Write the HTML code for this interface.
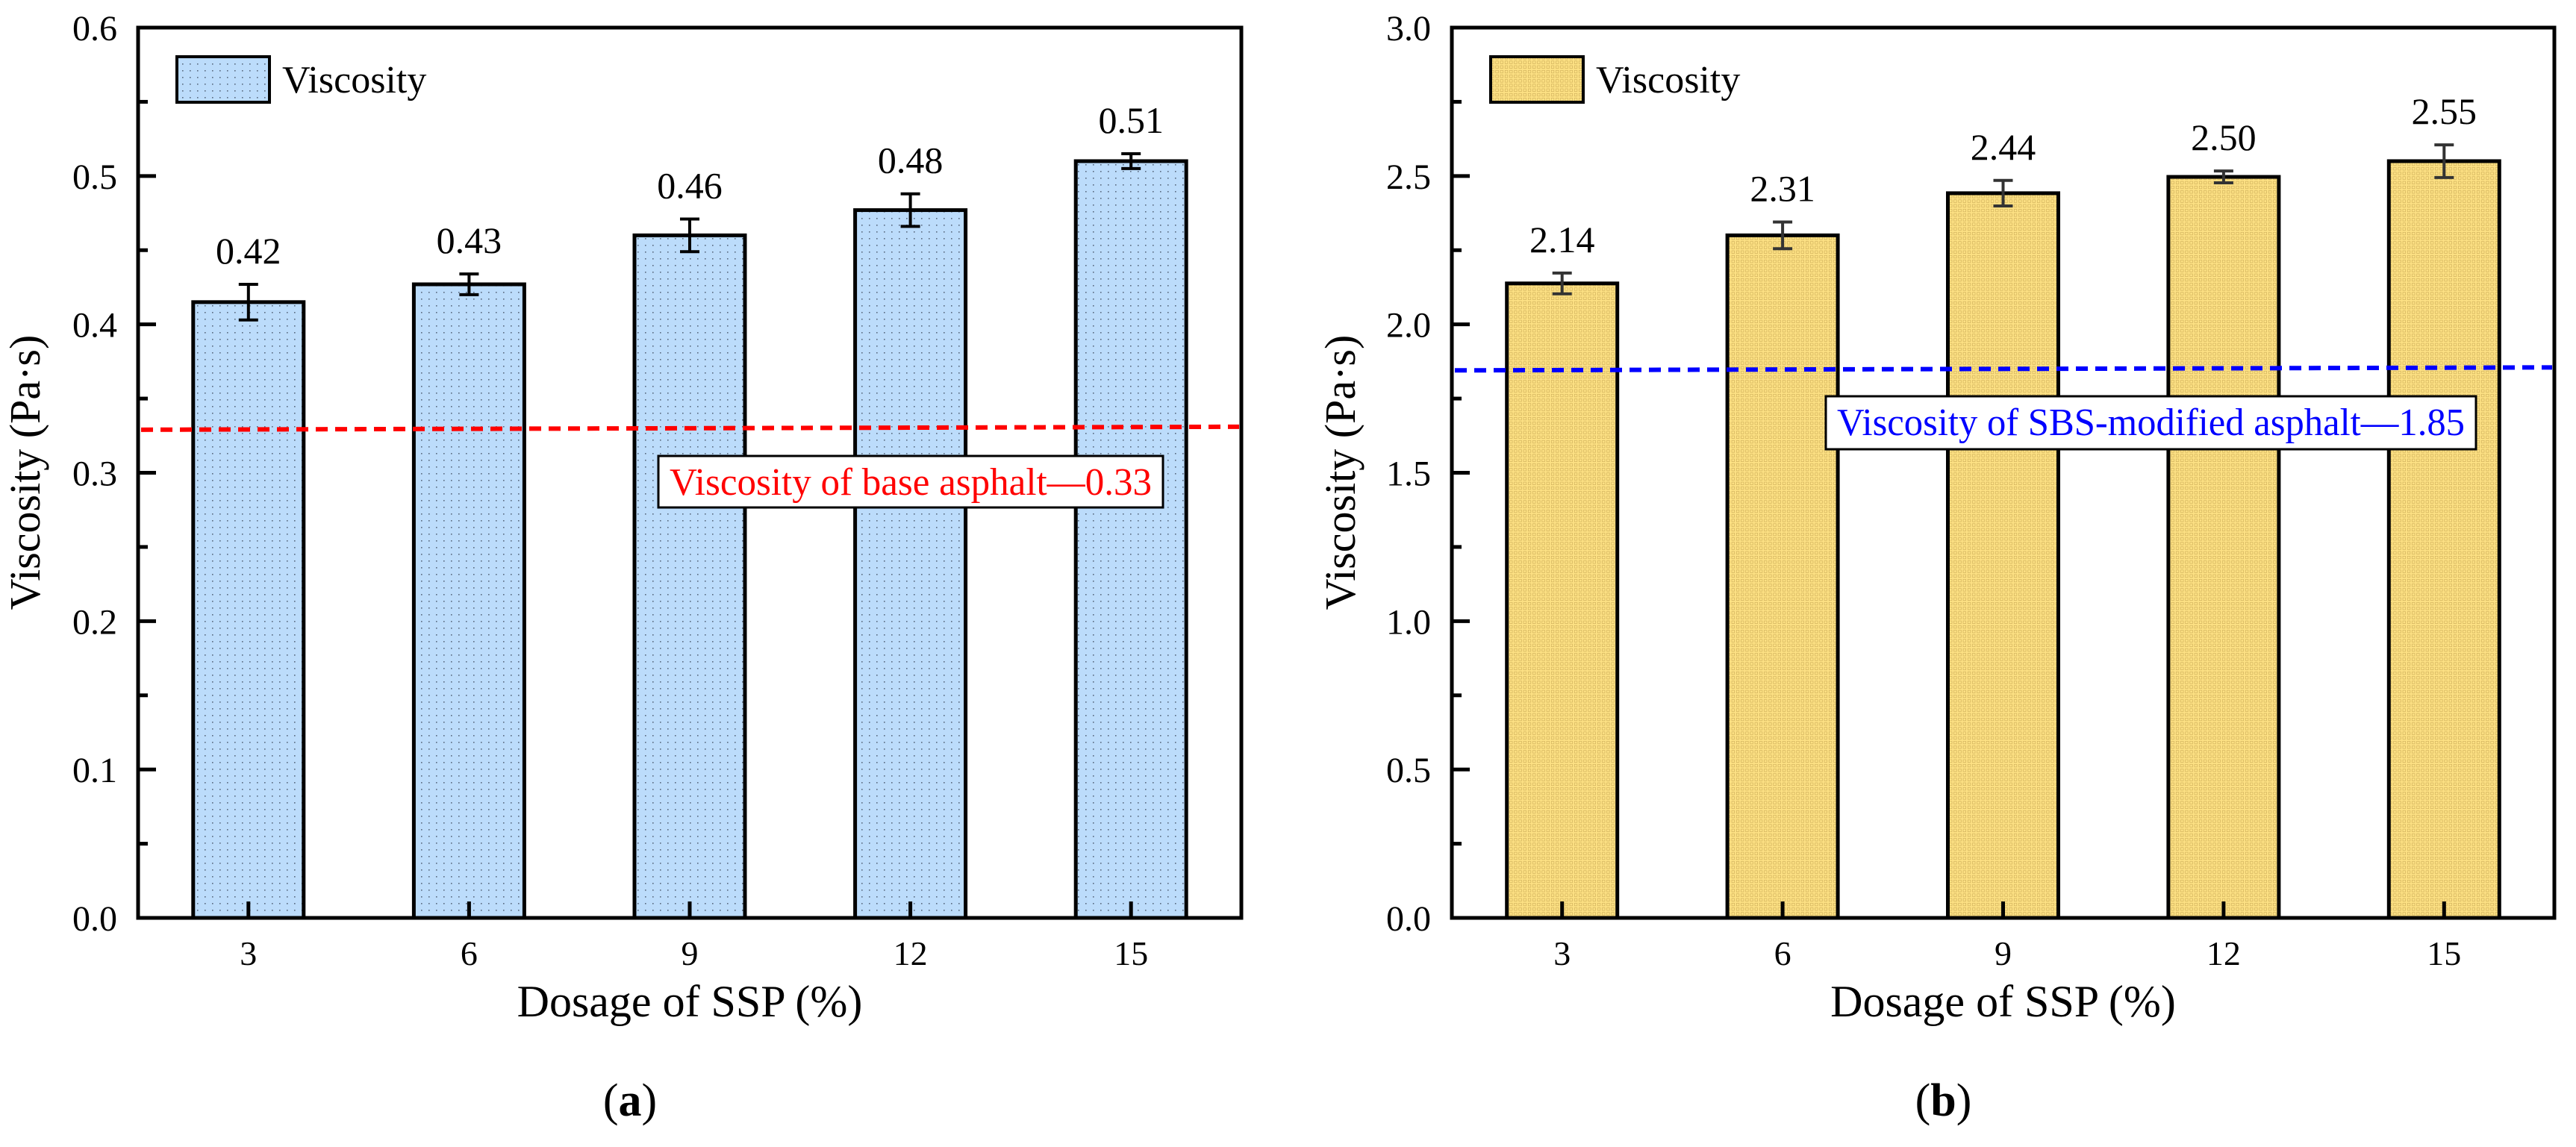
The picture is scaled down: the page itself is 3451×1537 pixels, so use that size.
<!DOCTYPE html>
<html><head><meta charset="utf-8"><style>
html,body{margin:0;padding:0;background:#fff;}
svg, svg text, svg tspan{font-family:"Liberation Serif","DejaVu Serif",serif !important;}
</style></head><body>
<svg id="fig" width="3451" height="1532" viewBox="0 0 3451 1532" xmlns="http://www.w3.org/2000/svg">
<defs>
<pattern id="dots" width="10" height="9" patternUnits="userSpaceOnUse">
<rect width="10" height="9" fill="#bcdcfb"/><rect x="4" y="4" width="1.6" height="1.6" fill="#5a6a80"/>
</pattern>
<pattern id="grid" width="6.2" height="6.2" patternUnits="userSpaceOnUse">
<rect width="6.2" height="6.2" fill="#fde184"/><rect x="1.2" y="1.2" width="3.6" height="3.6" fill="none" stroke="#c9a955" stroke-width="0.6"/>
</pattern>
</defs>
<g id="chartA"></g>
<g id="chartB"></g>
</svg>
<script>
const categories = [3, 6, 9, 12, 15];
const valuesA = [0.415, 0.427, 0.46, 0.477, 0.51];
const errorsA = [0.012, 0.007, 0.011, 0.011, 0.005];
const labelsA = ["0.42", "0.43", "0.46", "0.48", "0.51"];
const ticksA = [0.0, 0.1, 0.2, 0.3, 0.4, 0.5, 0.6];
const tickLabelsA = ["0.0", "0.1", "0.2", "0.3", "0.4", "0.5", "0.6"];
const refA = [0.329, 0.331];
const valuesB = [2.138, 2.30, 2.442, 2.497, 2.55];
const errorsB = [0.035, 0.045, 0.043, 0.02, 0.055];
const labelsB = ["2.14", "2.31", "2.44", "2.50", "2.55"];
const ticksB = [0.0, 0.5, 1.0, 1.5, 2.0, 2.5, 3.0];
const tickLabelsB = ["0.0", "0.5", "1.0", "1.5", "2.0", "2.5", "3.0"];
const refB = [1.845, 1.855];

const NS = "http://www.w3.org/2000/svg";
function mk(parent, tag, attrs, text) {
  const e = document.createElementNS(NS, tag);
  for (const k in attrs) e.setAttribute(k, attrs[k]);
  if (tag === "text") e.style.fontFamily = '"Liberation Serif", "DejaVu Serif", serif';
  if (text !== undefined) e.textContent = text;
  parent.appendChild(e);
  return e;
}

function drawChart(g, o) {
  const L = o.left, R = o.right, T = 37, B = 1230;
  const yMax = o.ticks[o.ticks.length - 1];
  const y = v => B - (v / yMax) * (B - T);
  const x = c => L + (c - 1.5) / 15 * (R - L);
  const bw = 148;
  categories.forEach((c, i) => {
    const r = mk(g, "rect", {x: x(c) - bw / 2, y: y(o.values[i]), width: bw, height: B - y(o.values[i]), fill: o.fill, stroke: "#000", "stroke-width": 5});
    
    
  });
  categories.forEach((c, i) => {
    const t = mk(g, "line", {x1: x(c), x2: x(c), y1: B, y2: B - 22, stroke: "#000", "stroke-width": 5});
    
    
    const lbl = mk(g, "text", {x: x(c), y: 1293, "font-size": 46, "text-anchor": "middle"}, String(c));
    
    
  });
  o.ticks.forEach((v, i) => {
    const t = mk(g, "line", {x1: L, x2: L + 24, y1: y(v), y2: y(v), stroke: "#000", "stroke-width": 5});
    
    
    const lbl = mk(g, "text", {x: L - 28, y: y(v) + 17, "font-size": 48, "text-anchor": "end"}, o.tickLabels[i]);
    
    
    if (i < o.ticks.length - 1) {
      const mv = (v + o.ticks[i + 1]) / 2;
      const m = mk(g, "line", {x1: L, x2: L + 13, y1: y(mv), y2: y(mv), stroke: "#000", "stroke-width": 5});
      
      
    }
  });
  const rl = mk(g, "line", {x1: L + 4, x2: R - 3, y1: y(o.ref[0]), y2: y(o.ref[1]), stroke: o.refColor, "stroke-width": 6, "stroke-dasharray": "16 10"});
  
  
  categories.forEach((c, i) => {
    const v = o.values[i], e = o.errors[i], cx = x(c);
    const eg = mk(g, "g", {stroke: o.errColor, "stroke-width": 4});
    
    
    mk(eg, "line", {x1: cx, x2: cx, y1: y(v + e), y2: y(v - e)});
    mk(eg, "line", {x1: cx - 13, x2: cx + 13, y1: y(v + e), y2: y(v + e)});
    mk(eg, "line", {x1: cx - 13, x2: cx + 13, y1: y(v - e), y2: y(v - e)});
    const vl = mk(g, "text", {x: cx, y: y(v + e) - 28, "font-size": 50, "text-anchor": "middle"}, o.labels[i]);
    
    
  });
  const bx = mk(g, "rect", {x: o.box[0], y: o.box[1], width: o.box[2], height: o.box[3], fill: "#fff", stroke: "#000", "stroke-width": 3});
  
  
  const bt = mk(g, "text", {x: o.box[0] + o.box[2] / 2, y: o.box[1] + 52, "font-size": 52, fill: o.refColor, "text-anchor": "middle", textLength: o.box[2] - 30, lengthAdjust: "spacingAndGlyphs"}, o.refText);
  
  
  const fr = mk(g, "rect", {x: L, y: T, width: R - L, height: B - T, fill: "none", stroke: "#000", "stroke-width": 5});
  
  
  const lg = mk(g, "g", {});
  
  
  mk(lg, "rect", {x: L + 52, y: 76, width: 124, height: 61, fill: o.fill, stroke: "#000", "stroke-width": 4});
  mk(lg, "text", {x: L + 193, y: 124, "font-size": 52}, "Viscosity");
  const yt = mk(g, "text", {x: 0, y: 0, "font-size": 58, "text-anchor": "middle", transform: "translate(" + (o.ytX + 20) + ",633) rotate(-90)"}, "Viscosity (Pa·s)");
  
  
  const xt = mk(g, "text", {x: (L + R) / 2, y: 1362, "font-size": 60, "text-anchor": "middle"}, "Dosage of SSP (%)");
  
  
  const pl = mk(g, "text", {x: (L + R) / 2 - 80, y: 1495, "font-size": 62, "text-anchor": "middle"});
  
  
  mk(pl, "tspan", {}, "(");
  mk(pl, "tspan", {"font-weight": "bold"}, o.panel);
  mk(pl, "tspan", {}, ")");
}

drawChart(document.getElementById("chartA"), {
  left: 185, right: 1663, values: valuesA, errors: errorsA, labels: labelsA,
  ticks: ticksA, tickLabels: tickLabelsA, ref: refA, fill: "url(#dots)",
  refColor: "#ff0000", errColor: "#000", refText: "Viscosity of base asphalt—0.33",
  box: [882, 611, 676, 69], ytX: 33, panel: "a"
});
drawChart(document.getElementById("chartB"), {
  left: 1945, right: 3422, values: valuesB, errors: errorsB, labels: labelsB,
  ticks: ticksB, tickLabels: tickLabelsB, ref: refB, fill: "url(#grid)",
  refColor: "#0000ff", errColor: "#333", refText: "Viscosity of SBS-modified asphalt—1.85",
  box: [2446, 531, 871, 71], ytX: 1795, panel: "b"
});
</script>
</body></html>
